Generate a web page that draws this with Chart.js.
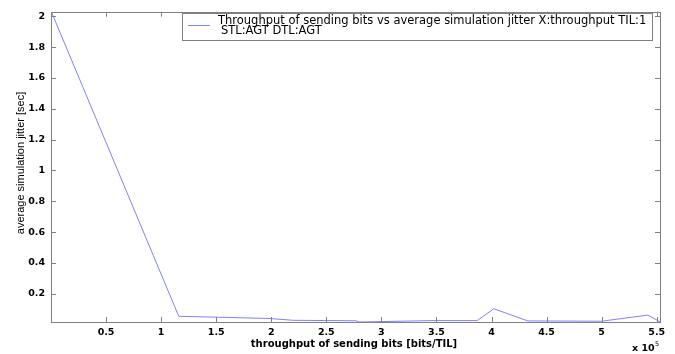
<!DOCTYPE html>
<html>
<head>
<meta charset="utf-8">
<script src="https://cdn.jsdelivr.net/npm/chart.js@4"></script>
<style>
  html, body { margin: 0; padding: 0; background: #fff; }
  #wrap { width: 675px; height: 354px; position: relative; }
</style>
</head>
<body>
<div id="wrap"><canvas id="c" width="675" height="354"></canvas></div>
<script>
// Data (x in units of 1e5 bits/TIL)
const xValues = [0.003, 1.16, 1.98, 2.2, 2.77, 2.8, 3.45, 3.87, 4.02, 4.33, 5.0, 5.42, 5.53];
const yValues = [2.03, 0.054, 0.040, 0.028, 0.025, 0.017, 0.026, 0.026, 0.103, 0.024, 0.022, 0.062, 0.018];
const xTicks = [0.5, 1, 1.5, 2, 2.5, 3, 3.5, 4, 4.5, 5, 5.5];
const yTicks = [0.2, 0.4, 0.6, 0.8, 1, 1.2, 1.4, 1.6, 1.8, 2];
const seriesLabel = ["Throughput of sending bits vs average simulation jitter X:throughput TIL:1", "STL:AGT DTL:AGT"];
const xTitle = "throughput of sending bits [bits/TIL]";
const yTitle = "average simulation jitter [sec]";
const xExponent = "5";

const FONT = '"DejaVu Sans", Verdana, sans-serif';
const FONT2 = '"Liberation Sans", Arial, sans-serif';
const AXIS = '#808080';

const decor = {
  id: 'decor',
  afterDraw(chart) {
    const ctx = chart.ctx, a = chart.chartArea;
    const xs = chart.scales.x, ys = chart.scales.y;
    ctx.save();
    ctx.strokeStyle = AXIS; ctx.lineWidth = 1;
    ctx.strokeRect(Math.round(a.left) + 0.5, Math.round(a.top) + 0.5, Math.round(a.right - a.left), Math.round(a.bottom - a.top));
    const tl = 5;
    ctx.beginPath();
    xTicks.forEach(v => {
      const px = Math.round(xs.getPixelForValue(v)) + 0.5;
      ctx.moveTo(px, a.bottom); ctx.lineTo(px, a.bottom - tl);
      ctx.moveTo(px, a.top); ctx.lineTo(px, a.top + tl);
    });
    yTicks.forEach(v => {
      const py = Math.round(ys.getPixelForValue(v)) + 0.5;
      ctx.moveTo(a.left, py); ctx.lineTo(a.left + tl, py);
      ctx.moveTo(a.right, py); ctx.lineTo(a.right - tl, py);
    });
    ctx.stroke();
    ctx.fillStyle = '#000';
    ctx.textAlign = 'center'; ctx.textBaseline = 'middle';
    ctx.font = 'bold 10px ' + FONT;
    ctx.fillText(xTitle, 354, 344);
    ctx.save();
    ctx.translate(21, 163);
    ctx.rotate(-Math.PI / 2);
    ctx.font = '11px ' + FONT2;
    ctx.fillText(yTitle, 0, 0);
    ctx.restore();
    ctx.textAlign = 'left';
    ctx.font = 'bold 9.5px ' + FONT;
    ctx.fillText('x 10', 632, 349);
    ctx.font = '6.5px ' + FONT;
    ctx.fillText(xExponent, 655, 344);
    const lx = 182, ly = 13, lw = 470, lh = 27;
    ctx.fillStyle = '#fff';
    ctx.fillRect(lx, ly, lw, lh);
    ctx.strokeStyle = AXIS;
    ctx.strokeRect(lx + 0.5, ly + 0.5, lw, lh);
    ctx.strokeStyle = '#8080ff';
    ctx.beginPath(); ctx.moveTo(188, 25.5); ctx.lineTo(210, 25.5); ctx.stroke();
    ctx.fillStyle = '#000';
    ctx.font = '11.5px ' + FONT;
    ctx.fillText(seriesLabel[0], 218, 21);
    ctx.fillText(seriesLabel[1], 221, 31);
    ctx.restore();
  }
};

new Chart(document.getElementById('c'), {
  type: 'line',
  data: {
    datasets: [{
      label: seriesLabel.join(' '),
      data: xValues.map((x, i) => ({ x: x, y: yValues[i] })),
      borderColor: '#8080ff',
      borderWidth: 1,
      pointRadius: 0,
      fill: false,
      tension: 0
    }]
  },
  options: {
    responsive: false,
    animation: false,
    devicePixelRatio: 1,
    layout: { padding: { top: 10, right: 15, left: 0, bottom: 0 } },
    plugins: { legend: { display: false }, tooltip: { enabled: false } },
    scales: {
      x: {
        type: 'linear', min: 0, max: 5.53,
        afterBuildTicks: s => { s.ticks = xTicks.map(v => ({ value: v })); },
        afterFit: s => { s.height = 32; },
        grid: { display: false, drawTicks: false },
        border: { display: false },
        ticks: { padding: 5, color: '#000', font: { family: FONT, size: 9.5, weight: 'bold' }, maxRotation: 0, autoSkip: false, callback: v => String(v) }
      },
      y: {
        type: 'linear', min: 0.017, max: 2.03,
        afterBuildTicks: s => { s.ticks = yTicks.map(v => ({ value: v })); },
        afterFit: s => { s.width = 51; },
        grid: { display: false, drawTicks: false },
        border: { display: false },
        ticks: { padding: 6, color: '#000', font: { family: FONT, size: 9.5, weight: 'bold' }, autoSkip: false, callback: v => String(v) }
      }
    }
  },
  plugins: [decor]
});
</script>
</body>
</html>
